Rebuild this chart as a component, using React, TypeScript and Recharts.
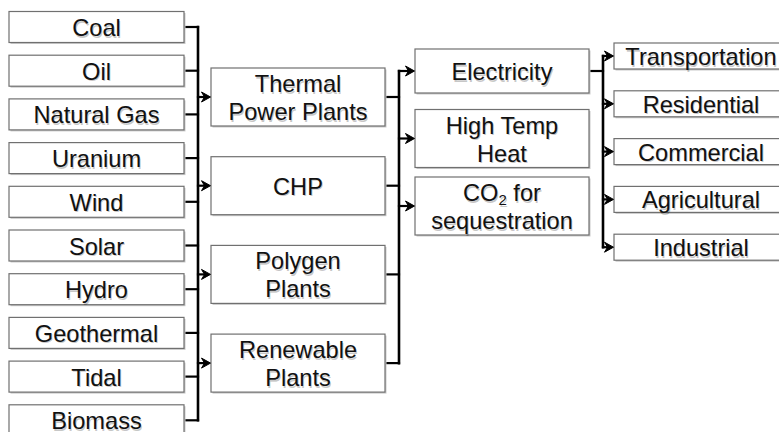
import { ReferenceLine, Scatter, ScatterChart, XAxis, YAxis } from "recharts";

// stage labels, left to right
const sources = ["Coal", "Oil", "Natural Gas", "Uranium", "Wind", "Solar", "Hydro", "Geothermal", "Tidal", "Biomass"];
const plants = ["Thermal\nPower Plants", "CHP", "Polygen\nPlants", "Renewable\nPlants"];
const carriers = ["Electricity", "High Temp\nHeat", "CO_2 for\nsequestration"];
const sectors = ["Transportation", "Residential", "Commercial", "Agricultural", "Industrial"];

// boxes that feed the bus into the next stage
const plantFeeders = sources;
const carrierFeeders = plants;
const sectorFeeders = ["Electricity"];

const WIDTH = 779;
const HEIGHT = 432;
const FONT = "'Liberation Sans', Arial, Helvetica, sans-serif";

type Column = { labels: string[]; x: number; top: number; pitch: number; w: number; h: (lines: number) => number };

const columns: Column[] = [
  { labels: sources, x: 96.5, top: 27, pitch: 43.7, w: 175, h: () => 31 },
  { labels: plants, x: 298, top: 97, pitch: 88.7, w: 174, h: () => 58 },
  { labels: carriers, x: 502, top: 71, pitch: 67.5, w: 174, h: (n) => (n > 1 ? 58 : 44) },
  { labels: sectors, x: 701, top: 56, pitch: 47.8, w: 174, h: () => 26 },
];

type Node = { x: number; y: number; w: number; h: number; label: string };

const nodes: Node[][] = columns.map((c) =>
  c.labels.map((label, i) => ({
    x: c.x,
    y: c.top + i * c.pitch,
    w: c.w,
    h: c.h(label.split("\n").length),
    label,
  }))
);

const feeders = [plantFeeders, carrierFeeders, sectorFeeders];

type Seg = { x1: number; y1: number; x2: number; y2: number; w: number };

const segments: Seg[] = [];
const heads: { x: number; y: number }[] = [];

feeders.forEach((names, k) => {
  const from = nodes[k].filter((n) => names.includes(n.label));
  const to = nodes[k + 1];
  const right = from[0].x + from[0].w / 2;
  const left = to[0].x - to[0].w / 2;
  const bus = right + 14;
  const ys = [...from.map((n) => n.y), ...to.map((n) => n.y)];
  segments.push({ x1: bus, y1: Math.min(...ys), x2: bus, y2: Math.max(...ys), w: 2.6 });
  from.forEach((n) => segments.push({ x1: right, y1: n.y, x2: bus, y2: n.y, w: 2.2 }));
  to.forEach((n) => {
    segments.push({ x1: bus, y1: n.y, x2: left - 4, y2: n.y, w: 2.2 });
    heads.push({ x: left - 0.5, y: n.y });
  });
});

const Label = ({ text, x, y, dx = 0, dy = 0, fill }: { text: string; x: number; y: number; dx?: number; dy?: number; fill: string }) => {
  const parts = text.split("_");
  return (
    <text x={x + dx} y={y + dy} textAnchor="middle" dominantBaseline="central" fontFamily={FONT} fontSize={23.6} fill={fill}>
      {parts.length === 1 ? (
        text
      ) : (
        <>
          <tspan>{parts[0]}</tspan>
          <tspan fontSize={15} dy={6}>
            {parts[1].charAt(0)}
          </tspan>
          <tspan dy={-6}>{parts[1].slice(1)}</tspan>
        </>
      )}
    </text>
  );
};

const BoxShape = (props: any) => {
  const { cx, cy, payload } = props;
  const { w, h, label } = payload as Node;
  const lines = label.split("\n");
  const lineYs = lines.length === 1 ? [cy + 1] : [cy - 13, cy + 15];
  return (
    <g>
      <rect x={cx - w / 2 + 1.5} y={cy - h / 2 + 1.5} width={w} height={h} fill="#c9c9c9" />
      <rect x={cx - w / 2} y={cy - h / 2} width={w} height={h} fill="#ffffff" stroke="#707070" strokeWidth={1.2} />
      {lines.map((l, i) => (
        <g key={i}>
          <Label text={l} x={cx} y={lineYs[i]} dx={1} dy={1.5} fill="rgba(0,0,0,0.22)" />
          <Label text={l} x={cx} y={lineYs[i]} fill="#111111" />
        </g>
      ))}
    </g>
  );
};

const HeadShape = (props: any) => {
  const { cx, cy } = props;
  return <path d={`M${cx},${cy} L${cx - 9},${cy - 5} L${cx - 6},${cy} L${cx - 9},${cy + 5} Z`} fill="#000" stroke="#000" strokeWidth={1} strokeLinejoin="miter" />;
};

export default function App() {
  return (
    <div style={{ position: "absolute", left: 0, top: 0, background: "#fff" }}>
      <ScatterChart width={WIDTH} height={HEIGHT} margin={{ top: 0, right: 0, bottom: 0, left: 0 }}>
        <XAxis type="number" dataKey="x" domain={[0, WIDTH]} hide />
        <YAxis type="number" dataKey="y" domain={[0, HEIGHT]} reversed hide />
        {segments.map((s, i) => (
          <ReferenceLine
            key={i}
            segment={[
              { x: s.x1, y: s.y1 },
              { x: s.x2, y: s.y2 },
            ]}
            stroke="#000"
            strokeWidth={s.w}
            strokeLinecap="square"
            ifOverflow="visible"
          />
        ))}
        {nodes.map((col, i) => (
          <Scatter key={i} data={col} shape={BoxShape} isAnimationActive={false} />
        ))}
        <Scatter data={heads} shape={HeadShape} isAnimationActive={false} />
      </ScatterChart>
    </div>
  );
}
